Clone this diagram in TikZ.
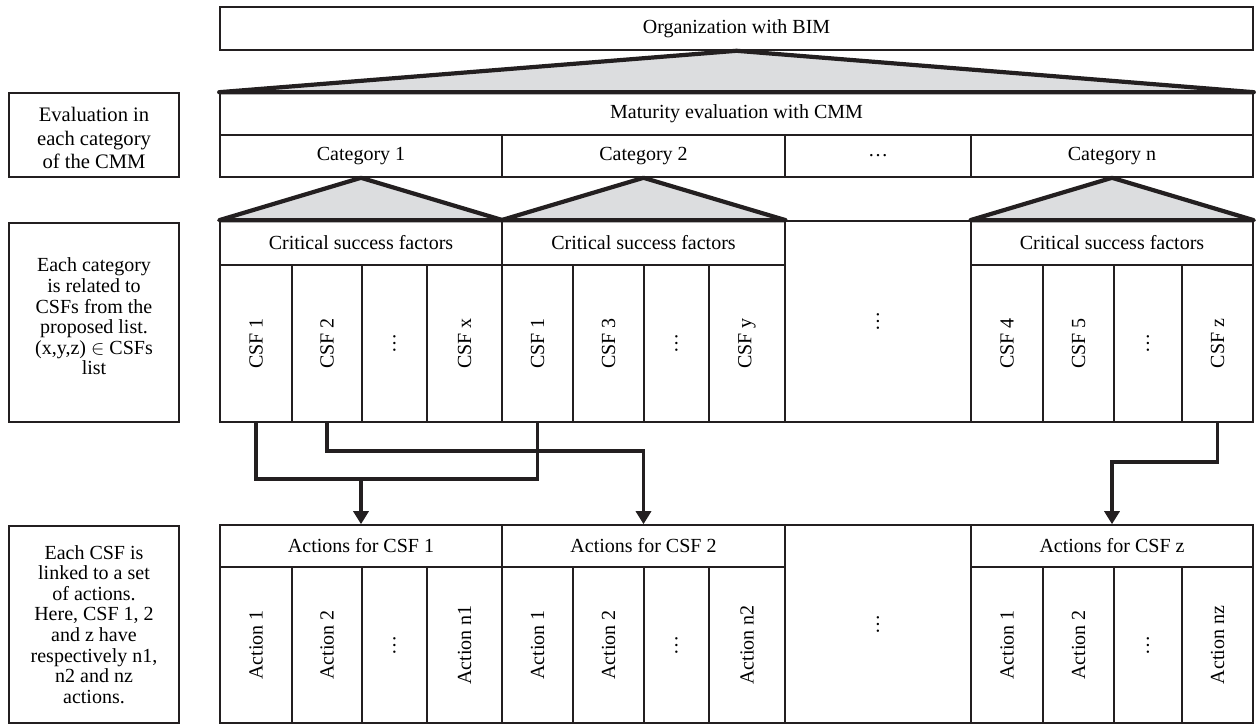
\documentclass[tikz,border=0pt]{standalone}
\usepackage{fontspec}
\setmainfont{Liberation Serif}
\usetikzlibrary{fit,arrows.meta}
\definecolor{ink}{HTML}{231F20}
\definecolor{trigray}{HTML}{DCDDDF}

\tikzset{
  box/.style={draw=ink, line width=0.8pt, inner sep=0pt},
  txt/.style={inner sep=0pt, align=center, font=\fontsize{10}{10.3}\selectfont},
  rot/.style={txt, rotate=90},
  tri/.style={draw=ink, fill=trigray, line width=2.1pt, line join=round},
  link/.style={draw=ink, line width=1.6pt},
  ->/.style={-{Triangle[length=6.5pt,width=7.5pt]}}
}

\begin{document}
\begin{tikzpicture}[x=0.5pt, y=-0.5pt]
\useasboundingbox (0,0) rectangle (1257,726);

\node[box, fit={(220,7) (1253,50)}] (Org) {}; \node[txt] (TOrg) at (Org) {Organization with BIM};
\node[box, fit={(220,93) (1253,135)}] (Mat) {}; \node[txt] (TMat) at (Mat) {Maturity evaluation with CMM};
\node[box, fit={(220,135) (502,177)}] (Cat1) {}; \node[txt] (TCat1) at (Cat1) {Category 1};
\node[box, fit={(502,135) (785,177)}] (Cat2) {}; \node[txt] (TCat2) at (Cat2) {Category 2};
\node[box, fit={(785,135) (971,177)}] (CatD) {}; \node[txt] (TCatD) at (CatD) {\dots};
\node[box, fit={(971,135) (1253,177)}] (CatN) {}; \node[txt] (TCatN) at (CatN) {Category n};

\node[box, fit={(9,93) (179,177)}] (E1) {}; \node[txt, font=\fontsize{10.3}{11.7}\selectfont, yshift=-1.5pt] (TE1) at (E1) {Evaluation in\\each category\\of the CMM};
\node[box, fit={(9,223) (179,422)}] (E2) {}; \node[txt, yshift=3pt] (TE2) at (E2) {Each category\\is related to\\CSFs from the\\proposed list.\\(x,y,z) $\in$ CSFs\\list};
\node[box, fit={(9,526) (179,723)}] (E3) {}; \node[txt] (TE3) at (E3) {Each CSF is\\linked to a set\\of actions.\\Here, CSF 1, 2\\and z have\\respectively n1,\\n2 and nz\\actions.};

\node[box, fit={(220,221) (502,265)}] (F1) {}; \node[txt] (TF1) at (F1) {Critical success factors};
\node[box, fit={(502,221) (785,265)}] (F2) {}; \node[txt] (TF2) at (F2) {Critical success factors};
\node[box, fit={(785,221) (971,422)}] (FD) {}; \node[rot] (TFD) at (FD) {\dots};
\node[box, fit={(971,221) (1253,265)}] (FN) {}; \node[txt] (TFN) at (FN) {Critical success factors};

\node[box, fit={(220,265) (292,422)}] (F11) {}; \node[rot] (L11) at (F11) {CSF 1};
\node[box, fit={(292,265) (362,422)}] (F12) {}; \node[rot] (L12) at (F12) {CSF 2};
\node[box, fit={(362,265) (427,422)}] (F13) {}; \node[rot] (L13) at (F13) {\dots};
\node[box, fit={(427,265) (502,422)}] (F14) {}; \node[rot] (L14) at (F14) {CSF x};
\node[box, fit={(502,265) (573,422)}] (F21) {}; \node[rot] (L21) at (F21) {CSF 1};
\node[box, fit={(573,265) (644,422)}] (F22) {}; \node[rot] (L22) at (F22) {CSF 3};
\node[box, fit={(644,265) (709,422)}] (F23) {}; \node[rot] (L23) at (F23) {\dots};
\node[box, fit={(709,265) (785,422)}] (F24) {}; \node[rot] (L24) at (F24) {CSF y};
\node[box, fit={(971,265) (1043,422)}] (FN1) {}; \node[rot] (LN1) at (FN1) {CSF 4};
\node[box, fit={(1043,265) (1114,422)}] (FN2) {}; \node[rot] (LN2) at (FN2) {CSF 5};
\node[box, fit={(1114,265) (1182,422)}] (FN3) {}; \node[rot] (LN3) at (FN3) {\dots};
\node[box, fit={(1182,265) (1253,422)}] (FN4) {}; \node[rot] (LN4) at (FN4) {CSF z};

\node[box, fit={(220,525) (502,567)}] (A1) {}; \node[txt] (TA1) at (A1) {Actions for CSF 1};
\node[box, fit={(502,525) (785,567)}] (A2) {}; \node[txt] (TA2) at (A2) {Actions for CSF 2};
\node[box, fit={(785,525) (971,723)}] (AD) {}; \node[rot] (TAD) at (AD) {\dots};
\node[box, fit={(971,525) (1253,567)}] (AZ) {}; \node[txt] (TAZ) at (AZ) {Actions for CSF z};

\node[box, fit={(220,567) (292,723)}] (A11) {}; \node[rot] (M11) at (A11) {Action 1};
\node[box, fit={(292,567) (362,723)}] (A12) {}; \node[rot] (M12) at (A12) {Action 2};
\node[box, fit={(362,567) (427,723)}] (A13) {}; \node[rot] (M13) at (A13) {\dots};
\node[box, fit={(427,567) (502,723)}] (A14) {}; \node[rot] (M14) at (A14) {Action n1};
\node[box, fit={(502,567) (573,723)}] (A21) {}; \node[rot] (M21) at (A21) {Action 1};
\node[box, fit={(573,567) (644,723)}] (A22) {}; \node[rot] (M22) at (A22) {Action 2};
\node[box, fit={(644,567) (709,723)}] (A23) {}; \node[rot] (M23) at (A23) {\dots};
\node[box, fit={(709,567) (785,723)}] (A24) {}; \node[rot] (M24) at (A24) {Action n2};
\node[box, fit={(971,567) (1043,723)}] (AZ1) {}; \node[rot] (MZ1) at (AZ1) {Action 1};
\node[box, fit={(1043,567) (1114,723)}] (AZ2) {}; \node[rot] (MZ2) at (AZ2) {Action 2};
\node[box, fit={(1114,567) (1182,723)}] (AZ3) {}; \node[rot] (MZ3) at (AZ3) {\dots};
\node[box, fit={(1182,567) (1253,723)}] (AZ4) {}; \node[rot] (MZ4) at (AZ4) {Action nz};

\draw[tri] (Org.south) -- (Mat.north west) -- (Mat.north east) -- cycle;
\draw[tri] (Cat1.south) -- (F1.north west) -- (F1.north east) -- cycle;
\draw[tri] (Cat2.south) -- (F2.north west) -- (F2.north east) -- cycle;
\draw[tri] (CatN.south) -- (FN.north west) -- (FN.north east) -- cycle;

\coordinate (J1) at (0,479);
\coordinate (J2) at (0,451);
\coordinate (J3) at (0,462);
\draw[link] (F11.south) |- (J1 -| F21.south) -- (F21.south);
\draw[link, ->] (J1 -| A1.north) -- (A1.north);
\draw[link, ->] (F12.south) |- (J2 -| A2.north) -- (A2.north);
\draw[link, ->] (FN4.south) |- (J3 -| AZ.north) -- (AZ.north);
\end{tikzpicture}
\end{document}
